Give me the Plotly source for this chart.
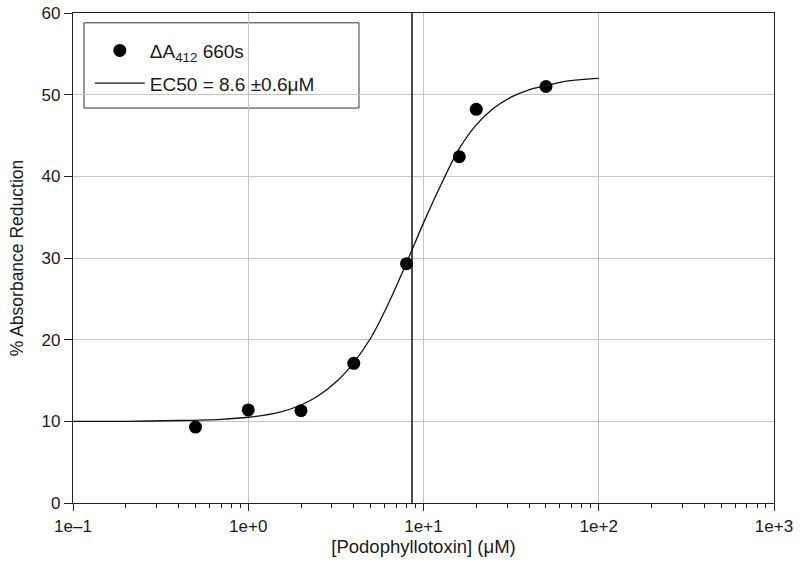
import plotly.graph_objects as go

# Measured data points
conc = [0.5, 1.0, 2.0, 4.0, 8.0, 16.0, 20.0, 50.0]
reduction = [9.3, 11.4, 11.3, 17.1, 29.3, 42.4, 48.2, 51.0]

# Fitted curve
fit_x = [0.1, 0.2, 0.4, 0.7, 1, 1.5, 2, 2.5, 3.2, 4, 5, 6.3, 8, 10, 12.6, 15.8, 20, 25, 31.6, 40, 50, 63, 79, 100]
fit_y = [10.0, 10.0, 10.1, 10.25, 10.5, 11.1, 12.0, 13.1, 14.9, 17.2, 20.2, 24.4, 29.4, 34.3, 39.0, 43.2,
         46.3, 48.3, 49.7, 50.6, 51.1, 51.6, 51.85, 52.0]

ec50 = 8.6

x_tickvals = [0.1, 1, 10, 100, 1000]
x_ticktext = ["1e\u20131", "1e+0", "1e+1", "1e+2", "1e+3"]
x_minor = [m * d for d in [0.1, 1, 10, 100] for m in range(2, 10)]
y_tickvals = [0, 10, 20, 30, 40, 50, 60]

FONT = "Liberation Sans, Arial, sans-serif"
TXT = "#1a1a1a"

fig = go.Figure()
fig.add_trace(go.Scatter(
    x=conc, y=reduction, mode="markers",
    marker=dict(size=13, color="black"),
    name="\u0394A<sub>412</sub> 660s", legendgroup="a",
))
fig.add_trace(go.Scatter(
    x=fit_x, y=fit_y, mode="lines", line=dict(color="#111111", width=1.3, shape="spline", smoothing=0.8),
    name="EC50 = 8.6 \u00b10.6\u03bcM", legendgroup="b",
))

fig.add_shape(type="line", xref="x", yref="paper", x0=ec50, x1=ec50, y0=0, y1=1,
              line=dict(color="#111111", width=1.5))
# legend frame
fig.add_shape(type="rect", xref="paper", yref="paper", x0=0.0157, x1=0.408, y0=0.806, y1=0.98,
              line=dict(color="#333333", width=1), fillcolor="white", layer="below")

fig.update_layout(
    width=800, height=575,
    margin=dict(l=73, r=26, t=13, b=72),
    paper_bgcolor="white", plot_bgcolor="white",
    font=dict(family=FONT, size=16, color=TXT),
    showlegend=True,
    legend=dict(x=0.024, y=0.962, xanchor="left", yanchor="top", bgcolor="rgba(0,0,0,0)",
                borderwidth=0, font=dict(size=19, color=TXT), traceorder="grouped",
                tracegroupgap=5, itemwidth=50),
    xaxis=dict(
        type="log", range=[-1, 3], tickvals=x_tickvals, ticktext=x_ticktext, automargin=False,
        showgrid=True, gridcolor="#c4c4c4", gridwidth=1.2,
        showline=True, linecolor="#222222", linewidth=1.3, mirror=True,
        ticks="outside", ticklen=7, tickcolor="#222222", tickwidth=1.2,
        minor=dict(tickvals=x_minor, ticks="outside", ticklen=4, tickcolor="#222222", showgrid=False),
        title=dict(text="[Podophyllotoxin] (\u03bcM)", standoff=5, font=dict(size=18.5)),
        tickfont=dict(size=17), zeroline=False, ticklabeloverflow="allow",
    ),
    yaxis=dict(
        range=[0, 60], tickvals=y_tickvals, automargin=False,
        showgrid=True, gridcolor="#c4c4c4", gridwidth=1.2,
        showline=True, linecolor="#222222", linewidth=1.3, mirror=True,
        ticks="outside", ticklen=8, tickcolor="#222222", tickwidth=1.2,
        title=dict(text="% Absorbance Reduction", standoff=13, font=dict(size=17.5)),
        tickfont=dict(size=17), zeroline=False, ticklabeloverflow="allow",
    ),
)

# remove the default page margin so the figure sits at the window's top-left corner
fig.write_html("out.html", config={"displayModeBar": False},
               post_script="document.body.style.margin='0';")
